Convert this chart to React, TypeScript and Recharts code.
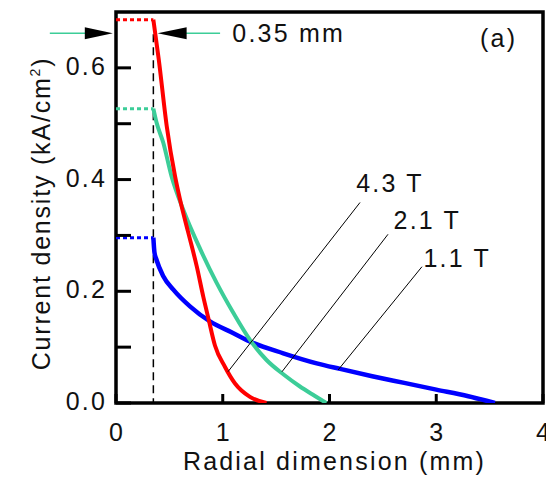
import React from 'react';
import {
  LineChart,
  Line,
  XAxis,
  YAxis,
  ReferenceLine,
  ReferenceDot,
  ReferenceArea,
} from 'recharts';

// current density profiles (x in mm, y in kA/cm^2)
const field43 = [
  { x: 0.35, y: 0.686 }, { x: 0.4, y: 0.616 }, { x: 0.475, y: 0.496 }, { x: 0.553, y: 0.406 },
  { x: 0.6, y: 0.364 }, { x: 0.677, y: 0.305 }, { x: 0.756, y: 0.245 }, { x: 0.818, y: 0.19 },
  { x: 0.865, y: 0.152 }, { x: 0.927, y: 0.103 }, { x: 1.02, y: 0.065 }, { x: 1.115, y: 0.035 },
  { x: 1.255, y: 0.011 }, { x: 1.41, y: 0 },
];
const field21 = [
  { x: 0.35, y: 0.527 }, { x: 0.38, y: 0.502 }, { x: 0.443, y: 0.466 }, { x: 0.52, y: 0.406 },
  { x: 0.63, y: 0.346 }, { x: 0.79, y: 0.275 }, { x: 0.943, y: 0.215 }, { x: 1.1, y: 0.161 },
  { x: 1.255, y: 0.113 }, { x: 1.41, y: 0.077 }, { x: 1.57, y: 0.051 }, { x: 1.72, y: 0.03 },
  { x: 1.86, y: 0.013 }, { x: 1.97, y: 0 },
];
const field11 = [
  { x: 0.35, y: 0.296 }, { x: 0.36, y: 0.27 }, { x: 0.38, y: 0.256 }, { x: 0.443, y: 0.227 },
  { x: 0.537, y: 0.203 }, { x: 0.693, y: 0.173 }, { x: 0.88, y: 0.146 }, { x: 1.1, y: 0.125 },
  { x: 1.255, y: 0.11 }, { x: 1.567, y: 0.089 }, { x: 1.88, y: 0.071 }, { x: 2.1, y: 0.061 },
  { x: 2.4, y: 0.048 }, { x: 2.7, y: 0.036 }, { x: 3.0, y: 0.024 }, { x: 3.3, y: 0.012 },
  { x: 3.55, y: 0 },
];

// flat (dotted) part inside the 0.35 mm core
const flat43 = [{ x: 0, y: 0.686 }, { x: 0.35, y: 0.686 }];
const flat21 = [{ x: 0, y: 0.527 }, { x: 0.35, y: 0.527 }];
const flat11 = [{ x: 0, y: 0.296 }, { x: 0.35, y: 0.296 }];

const xTicks = [0, 1, 2, 3, 4];
const yTicks = [0, 0.1, 0.2, 0.3, 0.4, 0.5, 0.6];

const RED = '#ff0000';
const GREEN = '#3ccd98';
const BLUE = '#0000ff';
const FONT = { fontSize: 25, letterSpacing: 2.2, fill: '#111' };

const XTick = ({ x, y, payload }: any) => (
  <g>
    <line x1={x} y1={y} x2={x} y2={y - 9} stroke="#000" strokeWidth={3} />
    <text x={x + 1} y={y + 38} textAnchor="middle" {...FONT}>
      {payload.value}
    </text>
  </g>
);

const YTick = ({ x, y, payload }: any) => {
  const v = payload.value;
  const major = Math.round(v * 10) % 2 === 0;
  return (
    <g>
      <line x1={x} y1={y} x2={x + 15} y2={y} stroke="#000" strokeWidth={3} />
      {major && (
        <text x={x - 9} y={y + 7} textAnchor="end" {...FONT}>
          {v.toFixed(1)}
        </text>
      )}
    </g>
  );
};

const textAt = (label: string) => (p: any) => (
  <text x={p.cx} y={p.cy} {...FONT}>
    {label}
  </text>
);

const arrowRight = (p: any) => (
  <polygon points={`${p.cx},${p.cy} ${p.cx - 28},${p.cy - 6} ${p.cx - 28},${p.cy + 6}`} fill="#000" />
);
const arrowLeft = (p: any) => (
  <polygon points={`${p.cx},${p.cy} ${p.cx + 29},${p.cy - 6} ${p.cx + 29},${p.cy + 6}`} fill="#000" />
);

export default function App() {
  return (
    <div style={{ fontFamily: 'Arial, "Liberation Sans", sans-serif' }}>
      <LineChart width={546} height={471} margin={{ top: 4, right: 11, bottom: 0, left: 0 }}>
        <XAxis
          type="number"
          dataKey="x"
          domain={[0, 4]}
          ticks={xTicks}
          height={76}
          axisLine={false}
          tickLine={false}
          tickSize={0}
          tickMargin={0}
          tick={XTick}
          allowDataOverflow
          label={(props: any) => {
            const vb = props.viewBox;
            return (
              <text x={vb.x + vb.width / 2 + 5} y={vb.y + 67} textAnchor="middle" {...FONT}>
                Radial dimension (mm)
              </text>
            );
          }}
        />
        <YAxis
          type="number"
          domain={[0, 0.7]}
          ticks={yTicks}
          width={108}
          axisLine={false}
          tickLine={false}
          tickSize={0}
          tickMargin={0}
          tick={YTick}
          allowDataOverflow
          label={(props: any) => {
            const vb = props.viewBox;
            const cx = vb.x + 42;
            const cy = vb.y + vb.height / 2 + 6;
            return (
              <text x={cx} y={cy} textAnchor="middle" transform={`rotate(-90, ${cx}, ${cy})`} {...FONT} letterSpacing={1.8}>
                Current density (kA/cm
                <tspan dy={-10} fontSize={14}>2</tspan>
                <tspan dy={10}>)</tspan>
              </text>
            );
          }}
        />

        <ReferenceArea x1={0} x2={4} y1={0} y2={0.7} fill="none" stroke="#000" strokeWidth={3.5} />

        {/* core boundary */}
        <ReferenceLine
          segment={[{ x: 0.35, y: 0.66 }, { x: 0.35, y: 0 }]}
          stroke="#000"
          strokeWidth={1.5}
          strokeDasharray="8 5"
        />

        <Line data={flat11} dataKey="y" stroke={BLUE} strokeWidth={3} strokeDasharray="4 3" dot={false} isAnimationActive={false} />
        <Line data={flat21} dataKey="y" stroke={GREEN} strokeWidth={3} strokeDasharray="4 3" dot={false} isAnimationActive={false} />
        <Line data={flat43} dataKey="y" stroke={RED} strokeWidth={3} strokeDasharray="4 3" dot={false} isAnimationActive={false} />
        <Line data={field11} dataKey="y" type="monotone" stroke={BLUE} strokeWidth={4.5} dot={false} activeDot={false} isAnimationActive={false} />
        <Line data={field21} dataKey="y" type="monotone" stroke={GREEN} strokeWidth={4} dot={false} activeDot={false} isAnimationActive={false} />
        <Line data={field43} dataKey="y" type="monotone" stroke={RED} strokeWidth={4} dot={false} activeDot={false} isAnimationActive={false} />

        {/* leader lines to the curves */}
        <ReferenceLine segment={[{ x: 2.286, y: 0.359 }, { x: 1.049, y: 0.056 }]} stroke="#000" strokeWidth={1} />
        <ReferenceLine segment={[{ x: 2.548, y: 0.302 }, { x: 1.555, y: 0.056 }]} stroke="#000" strokeWidth={1} />
        <ReferenceLine segment={[{ x: 2.866, y: 0.244 }, { x: 2.08, y: 0.059 }]} stroke="#000" strokeWidth={1} />

        <ReferenceDot x={2.25} y={0.377} r={0} shape={textAt('4.3 T')} />
        <ReferenceDot x={2.6} y={0.311} r={0} shape={textAt('2.1 T')} />
        <ReferenceDot x={2.88} y={0.244} r={0} shape={textAt('1.1 T')} />
        <ReferenceDot x={1.09} y={0.646} r={0} shape={textAt('0.35 mm')} />
        <ReferenceDot x={3.41} y={0.638} r={0} shape={textAt('(a)')} />

        {/* 0.35 mm dimension arrows */}
        <ReferenceLine segment={[{ x: -0.62, y: 0.662 }, { x: -0.1, y: 0.662 }]} stroke={GREEN} strokeWidth={1.5} ifOverflow="visible" />
        <ReferenceLine segment={[{ x: 0.6, y: 0.662 }, { x: 0.975, y: 0.662 }]} stroke={GREEN} strokeWidth={1.5} />
        <ReferenceDot x={-0.03} y={0.662} r={0} shape={arrowRight} ifOverflow="visible" />
        <ReferenceDot x={0.39} y={0.662} r={0} shape={arrowLeft} />
      </LineChart>
    </div>
  );
}
